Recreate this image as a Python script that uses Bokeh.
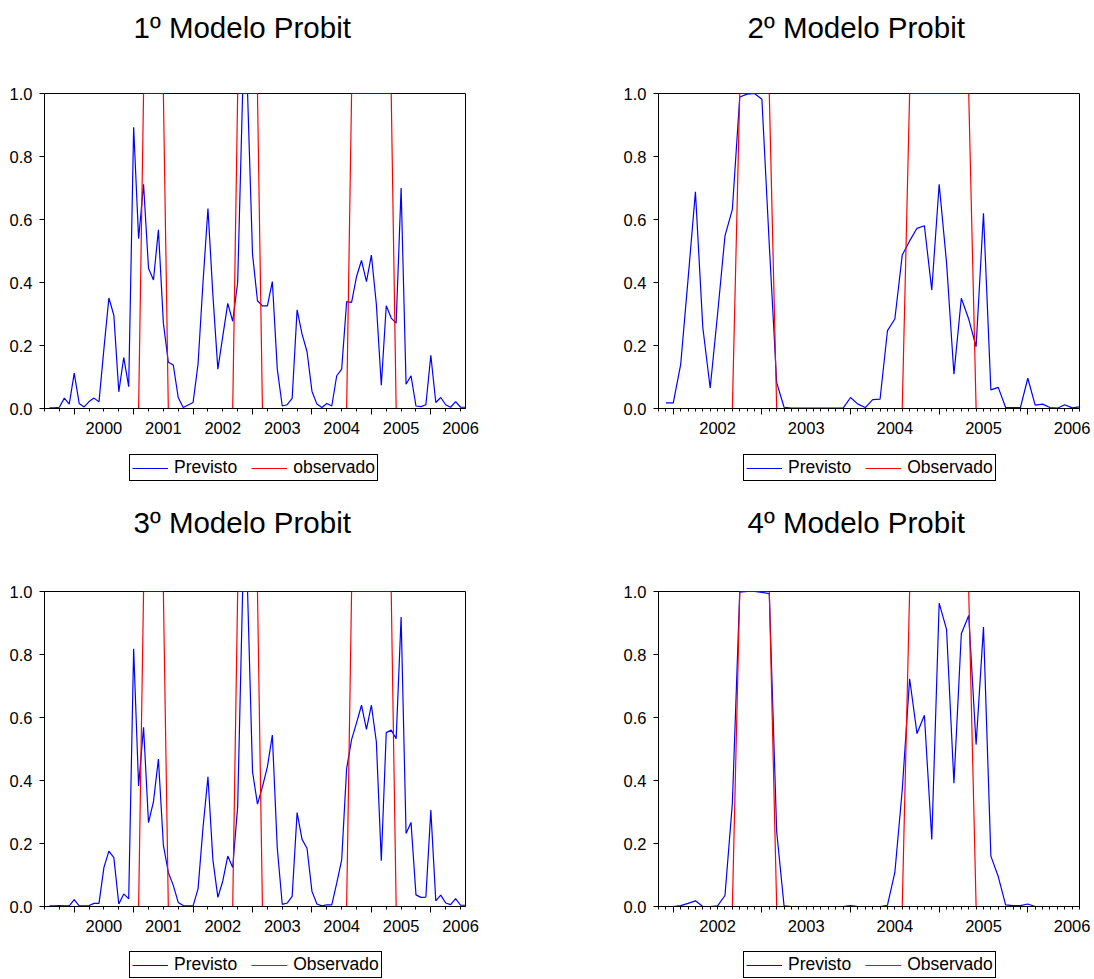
import pandas as pd
from bokeh.plotting import figure
from bokeh.layouts import column, row
from bokeh.models import (Range1d, FixedTicker, LinearAxis, Legend, LegendItem, Title,
                          PrintfTickFormatter, CustomJSTickFormatter)
from bokeh.embed import file_html
from bokeh.resources import INLINE

NaN = float("nan")
FONT = "Liberation Sans"
BLUE = "#0000FF"
RED = "#FF0000"

# ---------------- data ----------------
months_long = pd.period_range("1999-07", "2006-08", freq="M")
months_short = pd.period_range("2001-11", "2006-08", freq="M")

observado = [0, 0, 0, 0, 0, 0, 0, 0, 0, 0, 0, 0, 0, 0, 0, 0, 0, 0, 0, 0,
             1, 1, 1, 1, 1,
             0, 0, 0, 0, 0, 0, 0, 0, 0, 0, 0, 0, 0, 0,
             1, 1, 1, 1, 1,
             0, 0, 0, 0, 0, 0, 0, 0, 0, 0, 0, 0, 0, 0, 0, 0, 0, 0,
             1, 1, 1, 1, 1, 1, 1, 1, 1,
             0, 0, 0, 0, 0, 0, 0, 0, 0, 0, 0, 0, 0, 0, 0]

previsto_1 = [NaN,
              0.002, 0.002, 0.004, 0.033, 0.014, 0.112, 0.016, 0.005, 0.022, 0.033,
              0.021, 0.19, 0.351, 0.296, 0.053, 0.162, 0.069, 0.893, 0.539, 0.712,
              0.445, 0.408, 0.567, 0.271, 0.147, 0.138, 0.035, 0.003, 0.011, 0.019,
              0.141, 0.40, 0.635, 0.36, 0.125, 0.23, 0.334, 0.277, 0.40, 1.0,
              1.0, 0.49, 0.342, 0.326, 0.326, 0.403, 0.125, 0.008, 0.012, 0.032,
              0.313, 0.236, 0.181, 0.055, 0.014, 0.003, 0.016, 0.008, 0.104, 0.125,
              0.339, 0.337, 0.419, 0.47, 0.403, 0.487, 0.331, 0.074, 0.326, 0.287,
              0.271, 0.70, 0.077, 0.104, 0.008, 0.006, 0.012, 0.169, 0.019, 0.035,
              0.012, 0.004, 0.022, 0.004, 0.004]

previsto_3 = [NaN,
              0.002, 0.002, 0.003, 0.002, 0.002, 0.022, 0.002, 0.002, 0.003, 0.01,
              0.01, 0.124, 0.176, 0.155, 0.008, 0.04, 0.024, 0.818, 0.383, 0.569,
              0.266, 0.333, 0.468, 0.195, 0.108, 0.067, 0.013, 0.003, 0.002, 0.002,
              0.056, 0.25, 0.412, 0.148, 0.029, 0.081, 0.16, 0.124, 0.317, 1.0,
              1.0, 0.428, 0.325, 0.38, 0.443, 0.544, 0.185, 0.007, 0.011, 0.032,
              0.298, 0.213, 0.185, 0.048, 0.008, 0.002, 0.005, 0.005, 0.074, 0.148,
              0.438, 0.53, 0.583, 0.639, 0.562, 0.639, 0.523, 0.145, 0.552, 0.56,
              0.533, 0.919, 0.232, 0.267, 0.037, 0.029, 0.03, 0.306, 0.018, 0.036,
              0.011, 0.006, 0.025, 0.004, 0.004]

previsto_2 = [NaN,
              0.018, 0.018, 0.139, 0.41, 0.688, 0.257, 0.065, 0.30, 0.548, 0.632,
              0.989, 0.998, 1.0, 0.982, 0.52, 0.082, 0.004, 0.001, 0.001, 0.001,
              0.001, 0.001, 0.001, 0.001, 0.001, 0.035, 0.014, 0.003, 0.028, 0.03,
              0.247, 0.284, 0.487, 0.532, 0.572, 0.58, 0.376, 0.712, 0.463, 0.109,
              0.35, 0.284, 0.196, 0.62, 0.059, 0.067, 0.003, 0.003, 0.003, 0.096,
              0.011, 0.014, 0.003, 0.001, 0.012, 0.002, 0.005]

previsto_4 = [NaN,
              0.0, 0.0, 0.003, 0.01, 0.018, 0.0, 0.0, 0.002, 0.035, 0.327,
              0.998, 1.0, 1.0, 0.997, 0.993, 0.238, 0.002, 0.0, 0.0, 0.0,
              0.0, 0.0, 0.0, 0.0, 0.0, 0.003, 0.0, 0.0, 0.0, 0.0,
              0.004, 0.108, 0.37, 0.723, 0.549, 0.607, 0.213, 0.963, 0.88, 0.391,
              0.866, 0.924, 0.514, 0.887, 0.16, 0.095, 0.005, 0.003, 0.003, 0.008,
              0.0, 0.0, 0.0, 0.0, 0.0, 0.0, 0.0]

titles = ["1º Modelo Probit", "2º Modelo Probit", "3º Modelo Probit", "4º Modelo Probit"]
legend_prev = "Previsto"
legend_obs = ["observado", "Observado", "Observado", "Observado"]
year_labels_long = ["2000", "2001", "2002", "2003", "2004", "2005", "2006"]
year_labels_short = ["2002", "2003", "2004", "2005", "2006"]
y_ticks = [0.0, 0.2, 0.4, 0.6, 0.8, 1.0]


def decimal_year(periods):
    return [p.year + (p.month - 1) / 12 for p in periods]


def make_panel(title, months, prev, obs, year_labels, monthly_minor, right, title_gap):
    x = decimal_year(months)
    p = figure(frame_width=421, frame_height=315, output_backend="svg", toolbar_location=None,
               x_range=Range1d(x[0], x[-1]), y_range=Range1d(0, 1),
               x_axis_location=None, y_axis_location=None,
               min_border_left=44, min_border_right=right,
               min_border_top=93, min_border_bottom=40,
               title=None)
    p.background_fill_color = "white"
    p.border_fill_color = "white"
    p.outline_line_color = "black"
    p.outline_line_width = 1
    p.grid.visible = False

    # spacer between frame and title, then the title itself (further from the frame)
    p.add_layout(Title(text=" ", text_font=FONT, text_font_size="10px", standoff=title_gap), "above")
    p.add_layout(Title(text=title, align="left", offset=89, standoff=0,
                       text_font=FONT, text_font_size="29.5px", text_font_style="normal",
                       text_color="black"), "above")

    yax = LinearAxis(ticker=FixedTicker(ticks=y_ticks, minor_ticks=[]),
                     formatter=PrintfTickFormatter(format="%.1f"),
                     major_tick_out=5, major_tick_in=0, minor_tick_out=0, minor_tick_in=0,
                     major_label_standoff=7,
                     major_label_text_font=FONT, major_label_text_font_size="16.5px",
                     major_label_text_color="black",
                     axis_line_color="black", major_tick_line_color="black")
    p.add_layout(yax, "left")

    # tick marks: years (major), quarters or months (minor)
    years = [int(s) for s in year_labels]
    minor = x if monthly_minor else [xx for xx, m in zip(x, months) if (m.month - 1) % 3 == 0]
    xax_ticks = LinearAxis(ticker=FixedTicker(ticks=years, minor_ticks=minor),
                           formatter=CustomJSTickFormatter(code="return ''"),
                           major_tick_out=6, major_tick_in=0,
                           minor_tick_out=3, minor_tick_in=0,
                           major_label_standoff=0, major_label_text_font_size="1px",
                           axis_line_color="black", major_tick_line_color="black",
                           minor_tick_line_color="black")
    p.add_layout(xax_ticks, "below")

    # year labels centred on each year
    label_pos = [y + 0.5 for y in years]
    xax_labels = LinearAxis(ticker=FixedTicker(ticks=label_pos, minor_ticks=[]),
                            major_label_overrides={pos: lab for pos, lab in zip(label_pos, year_labels)},
                            major_tick_out=0, major_tick_in=0, minor_tick_out=0, minor_tick_in=0,
                            axis_line_color=None, major_tick_line_color=None,
                            minor_tick_line_color=None,
                            major_label_standoff=7,
                            major_label_text_font=FONT, major_label_text_font_size="16.5px",
                            major_label_text_color="black")
    p.add_layout(xax_labels, "below")

    p.line(x, prev, line_color=BLUE, line_width=1.2)
    p.line(x, obs, line_color=RED, line_width=1.2)
    return p


def make_legend(months, prev, obs, obs_label, right, height, vy):
    # a strip below each chart holding its legend; the series are drawn here too but
    # the y range is set above the data, so only the legend keys are visible
    x = decimal_year(months)
    lf = figure(frame_width=421, frame_height=height, output_backend="svg", toolbar_location=None,
                x_range=Range1d(x[0], x[-1]), y_range=Range1d(2, 3),
                x_axis_location=None, y_axis_location=None,
                min_border_left=44, min_border_right=right,
                min_border_top=0, min_border_bottom=0, title=None)
    lf.outline_line_color = None
    lf.background_fill_color = "white"
    lf.border_fill_color = "white"
    lf.grid.visible = False
    r_prev = lf.line(x, prev, line_color=BLUE, line_width=1.2)
    r_obs = lf.line(x, obs, line_color=RED, line_width=1.2)
    legend = Legend(items=[LegendItem(label=legend_prev, renderers=[r_prev]),
                           LegendItem(label=obs_label, renderers=[r_obs])],
                    orientation="horizontal", location=(85, vy),
                    border_line_color="black", border_line_width=1, border_line_alpha=1,
                    background_fill_color="white", background_fill_alpha=1,
                    label_text_font=FONT, label_text_font_size="17.5px",
                    label_text_color="black",
                    glyph_width=36, glyph_height=14, label_height=16, label_standoff=6,
                    spacing=14, padding=2, margin=0)
    lf.add_layout(legend, "center")
    return lf


obs_short = observado[len(months_long) - len(months_short):]

p1 = make_panel(titles[0], months_long, previsto_1, observado, year_labels_long, False, 149, 36.5)
p2 = make_panel(titles[1], months_short, previsto_2, obs_short, year_labels_short, True, 15, 36.5)
p3 = make_panel(titles[2], months_long, previsto_3, observado, year_labels_long, False, 149, 39.5)
p4 = make_panel(titles[3], months_short, previsto_4, obs_short, year_labels_short, True, 15, 39.5)

l1 = make_legend(months_long, previsto_1, observado, legend_obs[0], 149, 50, 17)
l2 = make_legend(months_short, previsto_2, obs_short, legend_obs[1], 15, 50, 17)
l3 = make_legend(months_long, previsto_3, observado, legend_obs[2], 149, 33, 1)
l4 = make_legend(months_short, previsto_4, obs_short, legend_obs[3], 15, 33, 1)

layout = column(row(column(p1, l1), column(p2, l2)),
                row(column(p3, l3), column(p4, l4)))

with open("out.html", "w") as f:
    f.write(file_html(layout, INLINE))
